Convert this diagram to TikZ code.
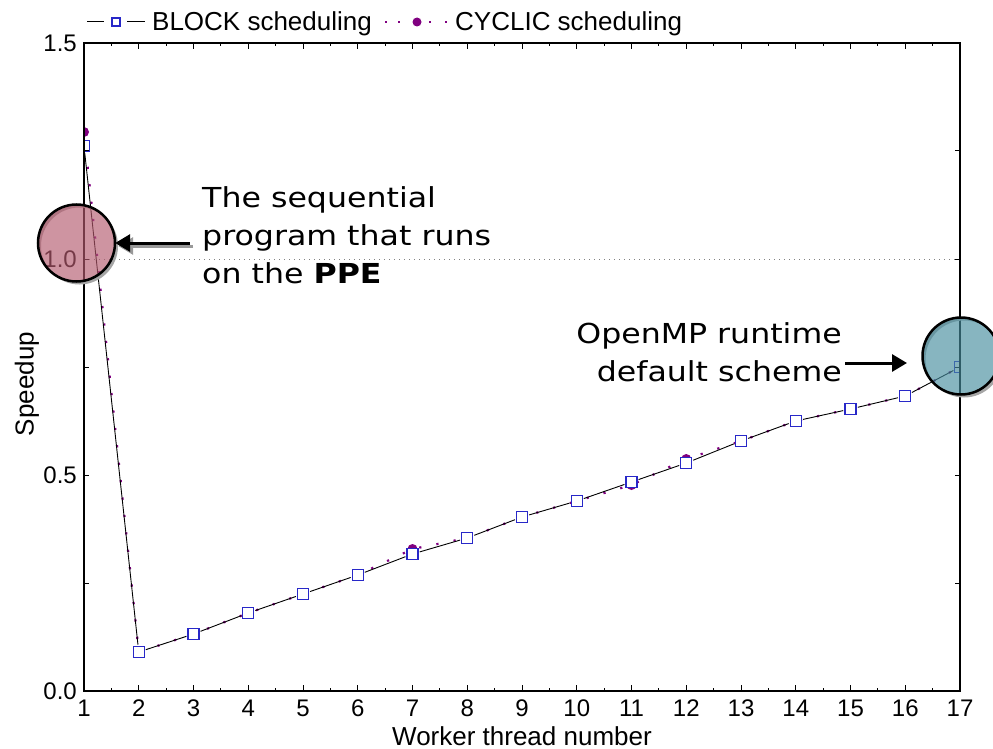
\documentclass[tikz,border=0pt]{standalone}
\usepackage{fontspec}
\setmainfont{Liberation Sans}
\newfontfamily\annfont[FakeStretch=1.15]{DejaVu Sans}
\usetikzlibrary{arrows.meta}

\definecolor{markblue}{RGB}{40,40,200}
\definecolor{cycpurple}{RGB}{128,0,128}
\definecolor{spotred}{RGB}{180,90,110}
\definecolor{spotblue}{RGB}{71,141,158}

\tikzset{
  axisline/.style={line width=1.2pt},
  axtick/.style={line width=1pt},
  ticklabel/.style={font=\fontsize{24}{24}\selectfont, inner sep=0pt},
  axislabel/.style={font=\fontsize{26}{26}\selectfont, inner sep=0pt},
  legendtext/.style={font=\fontsize{26}{26}\selectfont, inner sep=0pt, anchor=base west},
  blockmark/.style={rectangle, draw=markblue, fill=white, line width=1.3pt,
                    minimum size=11pt, inner sep=0pt},
  cycmark/.style={circle, fill=cycpurple, minimum size=10pt, inner sep=0pt},
  blockline/.style={black, line width=0.9pt, shorten >=7.5pt, shorten <=7.5pt},
  cycline/.style={cycpurple, line width=2.2pt, dash pattern=on 2.2pt off 15.3pt},
  spot/.style={circle, minimum size=77pt, inner sep=0pt},
  annarrow/.style={line width=3pt, -{Triangle[length=15pt,width=17pt]}},
  anntext/.style={font=\annfont\fontsize{27.5}{38}\selectfont, inner sep=0pt},
}

\begin{document}
\begin{tikzpicture}[x=1pt,y=-1pt]
\path[use as bounding box, clip] (0,0) rectangle (993,749);

% data points: worker count / BLOCK speedup (px) / CYCLIC speedup (px)
\foreach \i/\yb/\yc in {1/146/132, 2/652/652, 3/634/634, 4/613/613, 5/594/594,
    6/575/575, 7/554/549, 8/538/538, 9/517/517, 10/501/501, 11/482/485,
    12/463/459, 13/441/441, 14/421/421, 15/409/409, 16/396/396, 17/367/367} {
  \coordinate (b\i) at ({84+(\i-1)*54.75}, \yb);
  \coordinate (c\i) at ({84+(\i-1)*54.75}, \yc);
}

% reference line at speedup 1.0
\draw[gray, line width=1pt, dash pattern=on 1pt off 4pt] (84,259) -- (960,259);

% curves, clipped to the plotting area
\begin{scope}
  \clip (84,43) rectangle (960,691);
  \draw[cycline] (c1) \foreach \i in {2,...,17}{ -- (c\i)};
  \foreach \i [evaluate=\i as \j using int(\i+1)] in {1,...,16}
    \draw[blockline] (b\i) -- (b\j);
  \foreach \i in {1,...,17} \node[cycmark] (cm\i) at (c\i) {};
  \foreach \i in {1,...,17} \node[blockmark] (bm\i) at (b\i) {};
\end{scope}

% frame and ticks
\draw[axisline] (84,43) rectangle (960,691);
\foreach \i in {1,...,17} {
  \draw[axtick] ({84+(\i-1)*54.75},691) -- ++(0,-6);
  \draw[axtick] ({84+(\i-1)*54.75},43) -- ++(0,6);
  \node[ticklabel] (xl\i) at ({84+(\i-1)*54.75},708) {\i};
}
\foreach \i in {1,...,16} {
  \draw[axtick] ({84+(\i-0.5)*54.75},691) -- ++(0,-3);
  \draw[axtick] ({84+(\i-0.5)*54.75},43) -- ++(0,3);
}
\foreach \yy in {583,475,367,259,151} {
  \draw[axtick] (84,\yy) -- ++(5,0);
  \draw[axtick] (960,\yy) -- ++(-5,0);
}
\node[ticklabel, anchor=east] (yl0) at (77,691) {0.0};
\node[ticklabel, anchor=east] (yl1) at (77,475) {0.5};
\node[ticklabel, anchor=east] (yl2) at (77,259) {1.0};
\node[ticklabel, anchor=east] (yl3) at (77,43) {1.5};

\node[axislabel, anchor=base] (xlabel) at (522,745) {Worker thread number};
\node[axislabel, rotate=90] (ylabel) at (27,384) {Speedup};

% legend
\draw[black, line width=1pt] (87,22) -- (104,22) (127,22) -- (145,22);
\node[blockmark, minimum size=8pt] (legb) at (116,22) {};
\node[legendtext] (legbt) at (152,31) {BLOCK scheduling};
\foreach \xx in {386,399,430,446}
  \fill[cycpurple] (\xx-1.2,20.8) rectangle (\xx+1.2,23.2);
\node[cycmark, minimum size=9pt] (legc) at (417,22) {};
\node[legendtext] (legct) at (455,31) {CYCLIC scheduling};

% highlighted spots
\fill[black!35, even odd rule] (79.5,246) circle (38.5) (76.5,243) circle (38.5);
\node[spot, fill=spotred, fill opacity=0.65] (redspot) at (76.5,243) {};
\draw[line width=2.5pt] (redspot) circle (38.5);
\fill[black!35, even odd rule] (964,359) circle (38.5) (961,356) circle (38.5);
\node[spot, fill=spotblue, fill opacity=0.65] (bluespot) at (961,356) {};
\draw[line width=2.5pt] (bluespot) circle (38.5);

% annotations (base anchor = baseline of the last line)
\node[anntext, anchor=base west, align=left] (seqtext) at (202,283)
  {The sequential\\program that runs\\on the \textbf{PPE}};
\node[anntext, anchor=base east, align=right] (omptext) at (842,381)
  {OpenMP runtime\\default scheme};

\coordinate (seqstart) at (190,243);
\draw[annarrow, black!40] ([shift={(3,3)}]seqstart) -- ([shift={(3,3)}]redspot.east);
\draw[annarrow] (seqstart) -- (redspot.east);
\coordinate (ompstart) at (845,363);
\coordinate (omptip) at (907,363);
\draw[annarrow] (ompstart) -- (omptip);
\end{tikzpicture}
\end{document}
